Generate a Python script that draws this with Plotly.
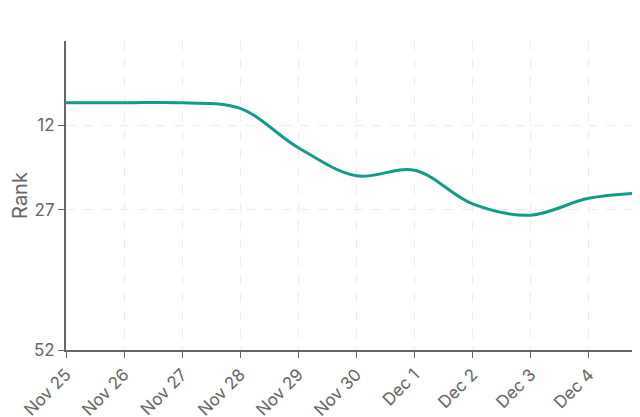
import plotly.graph_objects as go

dates = ["2024-11-25", "2024-11-26", "2024-11-27", "2024-11-28", "2024-11-29", "2024-11-30",
         "2024-12-01", "2024-12-02", "2024-12-03", "2024-12-04", "2024-12-05"]
ranks = [8, 8, 8, 9, 16, 21, 20, 26, 28, 25, 24]
tick_vals = [12, 27, 52]

fig = go.Figure()
fig.add_trace(go.Scatter(
    x=dates, y=ranks, mode="lines",
    line=dict(color="#129a8a", width=3, shape="spline", smoothing=1),
    showlegend=False,
))

fig.update_layout(
    width=640, height=417,
    margin=dict(l=58, r=0, t=33, b=75),
    plot_bgcolor="white", paper_bgcolor="white",
    font=dict(family="Inter, Roboto, sans-serif", size=17, color="#666"),
)
fig.update_xaxes(
    range=["2024-11-25", "2024-12-05 00:30"], tickformat="%b %-d", dtick=86400000,
    tickangle=-45, showline=True, linecolor="#666", linewidth=2,
    ticks="outside", ticklen=6, tickcolor="#666", automargin=False,
    showgrid=True, gridcolor="#ececec", griddash="dash",
)
fig.update_yaxes(
    range=[52, -3], tickvals=tick_vals, title=dict(text="Rank", standoff=14),
    showline=True, linecolor="#666", linewidth=2,
    ticks="outside", ticklen=6, tickcolor="#666", automargin=False,
    showgrid=True, gridcolor="#ececec", griddash="dash", zeroline=False,
)

fig.write_html("out.html")
